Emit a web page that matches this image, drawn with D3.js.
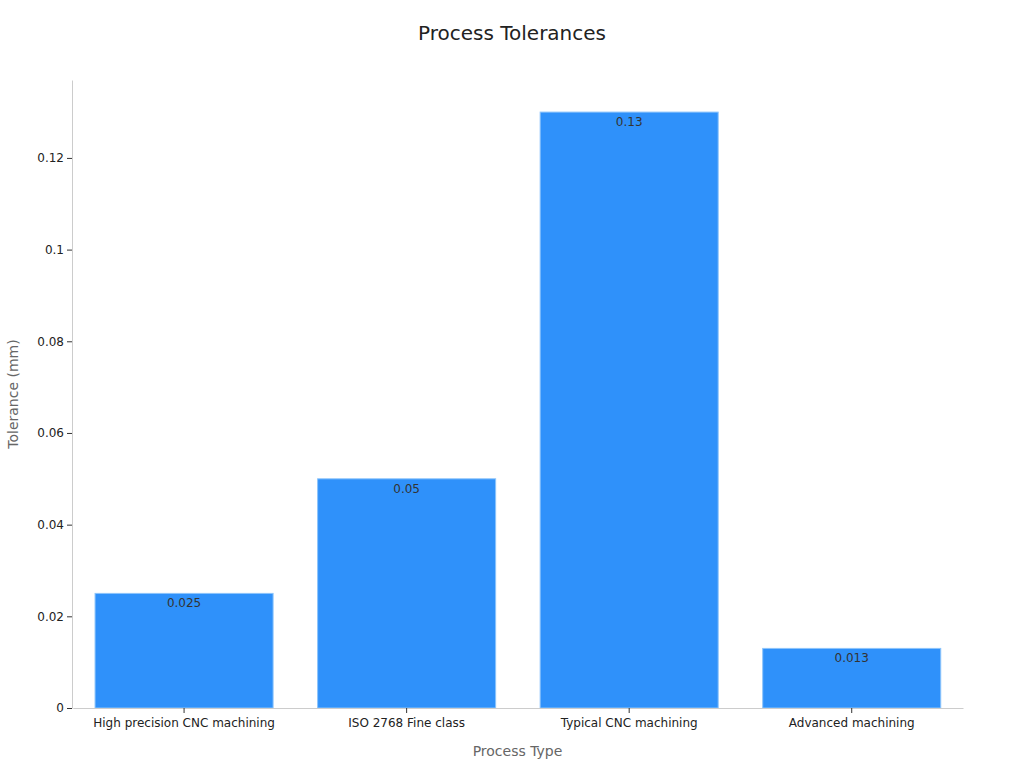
<!DOCTYPE html>
<html>
<head>
<meta charset="utf-8">
<script src="https://cdn.jsdelivr.net/npm/d3@7"></script>
<style>
  body { margin: 0; background: #fff; font-family: "DejaVu Sans", sans-serif; }
</style>
</head>
<body>
<svg id="chart" width="1024" height="768"></svg>
<script>
var categories = ['High precision CNC machining', 'ISO 2768 Fine class', 'Typical CNC machining', 'Advanced machining'];
var tolerances = [0.025, 0.05, 0.13, 0.013];
var yTicks = [0, 0.02, 0.04, 0.06, 0.08, 0.1, 0.12];
var yMax = 0.137;

var margin = { top: 80, right: 61, bottom: 60, left: 72 };
var width = 1024 - margin.left - margin.right;
var height = 768 - margin.top - margin.bottom;

var svg = d3.select('#chart');
var g = svg.append('g').attr('transform', `translate(${margin.left},${margin.top})`);

var x = d3.scaleBand().domain(categories).range([0.8, width]).paddingInner(0.2).paddingOuter(0.1);
var y = d3.scaleLinear().domain([0, yMax]).range([height, 0]);

// Bars
g.selectAll('rect.bar')
  .data(categories)
  .enter()
  .append('rect')
  .attr('class', 'bar')
  .attr('x', (d) => x(d))
  .attr('y', (d, i) => y(tolerances[i]))
  .attr('width', x.bandwidth())
  .attr('height', (d, i) => height - y(tolerances[i]))
  .attr('fill', '#2f91fa')
  .attr('stroke', '#8cc4fb')
  .attr('stroke-width', 1);

// Value labels
g.selectAll('text.val')
  .data(categories)
  .enter()
  .append('text')
  .attr('class', 'val')
  .attr('x', (d) => x(d) + x.bandwidth() / 2)
  .attr('y', (d, i) => y(tolerances[i]) + 14)
  .attr('text-anchor', 'middle')
  .attr('font-size', 12)
  .attr('fill', '#333')
  .text((d, i) => tolerances[i]);

// Y axis
var yAxis = g.append('g').call(d3.axisLeft(y).tickValues(yTicks).tickSize(5).tickSizeOuter(0).tickFormat((d) => d));
yAxis.select('.domain').attr('stroke', '#ccc');
yAxis.selectAll('.tick line').attr('stroke', '#333');
yAxis.selectAll('text').attr('font-size', 12).attr('fill', '#222').attr('font-family', 'DejaVu Sans');

// X axis
var xAxis = g.append('g').attr('transform', `translate(0,${height})`).call(d3.axisBottom(x).tickSize(5).tickSizeOuter(0));
xAxis.select('.domain').attr('stroke', '#ccc');
xAxis.selectAll('.tick line').attr('stroke', '#333');
xAxis.selectAll('text').attr('font-size', 12).attr('fill', '#222').attr('font-family', 'DejaVu Sans').attr('dy', '0.9em');

// Title
svg.append('text')
  .attr('x', 512)
  .attr('y', 40)
  .attr('text-anchor', 'middle')
  .attr('font-size', 20)
  .attr('fill', '#222')
  .text('Process Tolerances');

// Axis titles
svg.append('text')
  .attr('x', margin.left + width / 2)
  .attr('y', 756)
  .attr('text-anchor', 'middle')
  .attr('font-size', 14)
  .attr('fill', '#666')
  .text('Process Type');

svg.append('text')
  .attr('transform', `translate(18,${margin.top + height / 2}) rotate(-90)`)
  .attr('text-anchor', 'middle')
  .attr('font-size', 14)
  .attr('fill', '#666')
  .text('Tolerance (mm)');
</script>
</body>
</html>
